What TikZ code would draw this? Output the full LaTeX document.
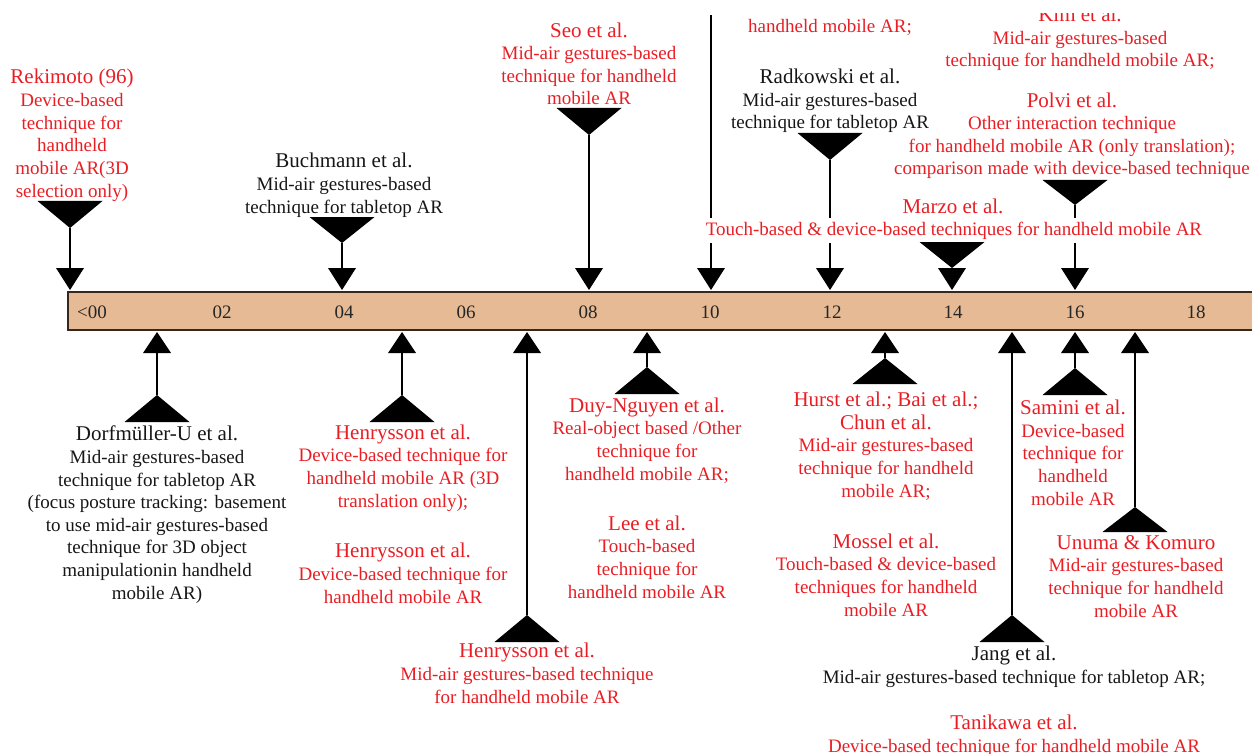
\documentclass[tikz,border=0pt]{standalone}
\usepackage{fontspec}
\setmainfont{Liberation Serif}

\definecolor{lblred}{RGB}{232,30,36}
\definecolor{lblblack}{RGB}{22,22,22}
\definecolor{barfill}{RGB}{230,186,148}
\definecolor{barline}{RGB}{55,40,30}

% multi-line labels are placed by the baseline of their last line
\tikzset{
  lbl/.style={align=center, anchor=base, inner sep=0pt,
              font=\fontsize{19}{22.6}\selectfont},
  redlbl/.style={lbl, text=lblred},
  blacklbl/.style={lbl, text=lblblack},
  ticklbl/.style={anchor=base, inner sep=0pt, text=black!85,
                  font=\fontsize{19}{22}\selectfont},
  stem/.style={draw=black, line width=1.8pt},
  inkfill/.style={fill=black},
}

% author names are set a little larger than the descriptions
\newcommand\nm[1]{{\fontsize{21}{22.6}\selectfont #1}}

% marker above the bar: wide wedge, stem, small head touching the bar
\newcommand\tlTopMark[4]{% #1 name, #2 x, #3 wedge top, #4 wedge tip
  \coordinate (#1-w) at (#2,#4);
  \coordinate (#1-h) at (#2,268);
  \fill[inkfill] (#2-32.5,#3) -- (#2+32.5,#3) -- (#1-w) -- cycle;
  \draw[stem] (#1-w) -- (#1-h);
  \fill[inkfill] ([xshift=-14pt]#1-h) -- ([xshift=14pt]#1-h) -- ([yshift=-22pt]#1-h) -- cycle;
}

% marker below the bar: small head at the bar, stem, wide wedge
\newcommand\tlBotMark[4]{% #1 name, #2 x, #3 wedge tip, #4 wedge base
  \coordinate (#1-h) at (#2,353);
  \coordinate (#1-w) at (#2,#3);
  \fill[inkfill] ([xshift=-14pt]#1-h) -- ([xshift=14pt]#1-h) -- ([yshift=21pt]#1-h) -- cycle;
  \draw[stem] (#1-h) -- (#1-w);
  \fill[inkfill] (#1-w) -- (#2+32.5,#4) -- (#2-32.5,#4) -- cycle;
}

\begin{document}
\begin{tikzpicture}[x=1pt,y=-1pt]
\useasboundingbox (0,0) rectangle (1252,754);

% ---- timeline bar ----
\fill[barfill] (68,292) rectangle (1262,330);
\draw[barline, line width=2.6pt] (1262,292) -- (68,292) -- (68,330) -- (1262,330);

\node[ticklbl, anchor=base west] (t00) at (77,318) {<00};
\foreach \yr/\xx in {02/222, 04/344, 06/466, 08/588, 10/710, 12/832, 14/953, 16/1075, 18/1196}
  \node[ticklbl] (t\yr) at (\xx,318) {\yr};

% ---- markers above the bar ----
\tlTopMark{rek}{70}{201}{228}
\tlTopMark{buch}{342}{217}{243}
\tlTopMark{seo}{589}{108}{135}
\tlTopMark{radk}{830}{133}{160}
\tlTopMark{polvi}{1075}{180}{205}

\coordinate (y10-top) at (711,15);
\coordinate (y10-h) at (711,268);
\draw[stem] (y10-top) -- (y10-h);
\fill[inkfill] ([xshift=-14pt]y10-h) -- ([xshift=14pt]y10-h) -- ([yshift=-22pt]y10-h) -- cycle;

% ---- markers below the bar ----
\tlBotMark{dorf}{157}{395}{422}
\tlBotMark{henA}{402}{395}{422}
\tlBotMark{henC}{527}{615}{642}
\tlBotMark{duy}{647}{367}{394}
\tlBotMark{hurst}{885}{358}{384}
\tlBotMark{jang}{1012}{615}{642}
\tlBotMark{samini}{1075}{368}{395}
\tlBotMark{unuma}{1135}{507}{532}

% ---- labels above ----
\node[redlbl] (rek) at (72,197)
  {\nm{Rekimoto (96)}\\Device-based\\technique for\\handheld\\mobile AR(3D\\selection only)};
\node[blacklbl] (buch) at (344,213)
  {\nm{Buchmann et al.}\\Mid-air gestures-based\\technique for tabletop AR};
\node[redlbl] (seo) at (589,105)
  {\nm{Seo et al.}\\Mid-air gestures-based\\technique for handheld\\mobile AR};
\node[redlbl] (y10) at (830,33) {handheld mobile AR;};
\begin{scope}
  \clip (0,14) rectangle (1252,754);
  \node[redlbl] (kim) at (1080,67)
    {\nm{Kim et al.}\\Mid-air gestures-based\\technique for handheld mobile AR;};
\end{scope}
\node[blacklbl] (radk) at (830,129)
  {\nm{Radkowski et al.}\\Mid-air gestures-based\\technique for tabletop AR};
\node[redlbl] (polvi) at (1072,175)
  {\nm{Polvi et al.}\\Other interaction technique\\for handheld mobile AR (only translation);\\comparison made with device-based technique};
\node[redlbl] (marzo) at (953,213) {\nm{Marzo et al.}};
\node[redlbl, fill=white, inner xsep=3pt, inner ysep=4pt] (marzo-d) at (954,235)
  {Touch-based \& device-based techniques for handheld mobile AR};
\tlTopMark{marzo}{952}{242}{268}

% ---- labels below ----
\node[blacklbl] (dorf) at (157,599)
  {\nm{Dorfmüller-U et al.}\\Mid-air gestures-based\\technique for tabletop AR\\(focus posture tracking: basement\\to use mid-air gestures-based\\technique for 3D object\\manipulationin handheld\\mobile AR)};
\node[redlbl] (henA) at (403,507)
  {\nm{Henrysson et al.}\\Device-based technique for\\handheld mobile AR (3D\\translation only);};
\node[redlbl] (henB) at (403,603)
  {\nm{Henrysson et al.}\\Device-based technique for\\handheld mobile AR};
\node[redlbl] (henC) at (527,703)
  {\nm{Henrysson et al.}\\Mid-air gestures-based technique\\for handheld mobile AR};
\node[redlbl] (duy) at (647,480)
  {\nm{Duy-Nguyen et al.}\\Real-object based /Other\\technique for\\handheld mobile AR;};
\node[redlbl] (lee) at (647,598)
  {\nm{Lee et al.}\\Touch-based\\technique for\\handheld mobile AR};
\node[redlbl] (hurst) at (886,497)
  {\nm{Hurst et al.; Bai et al.;}\\\nm{Chun et al.}\\Mid-air gestures-based\\technique for handheld\\mobile AR;};
\node[redlbl] (mossel) at (886,616)
  {\nm{Mossel et al.}\\Touch-based \& device-based\\techniques for handheld\\mobile AR};
\node[redlbl] (samini) at (1073,505)
  {\nm{Samini et al.}\\Device-based\\technique for\\handheld\\mobile AR};
\node[redlbl] (unuma) at (1136,617)
  {\nm{Unuma \& Komuro}\\Mid-air gestures-based\\technique for handheld\\mobile AR};
\node[blacklbl] (jang) at (1014,683)
  {\nm{Jang et al.}\\Mid-air gestures-based technique for tabletop AR;};
\node[redlbl] (tanik) at (1014,752)
  {\nm{Tanikawa et al.}\\Device-based technique for handheld mobile AR};
\end{tikzpicture}
\end{document}
